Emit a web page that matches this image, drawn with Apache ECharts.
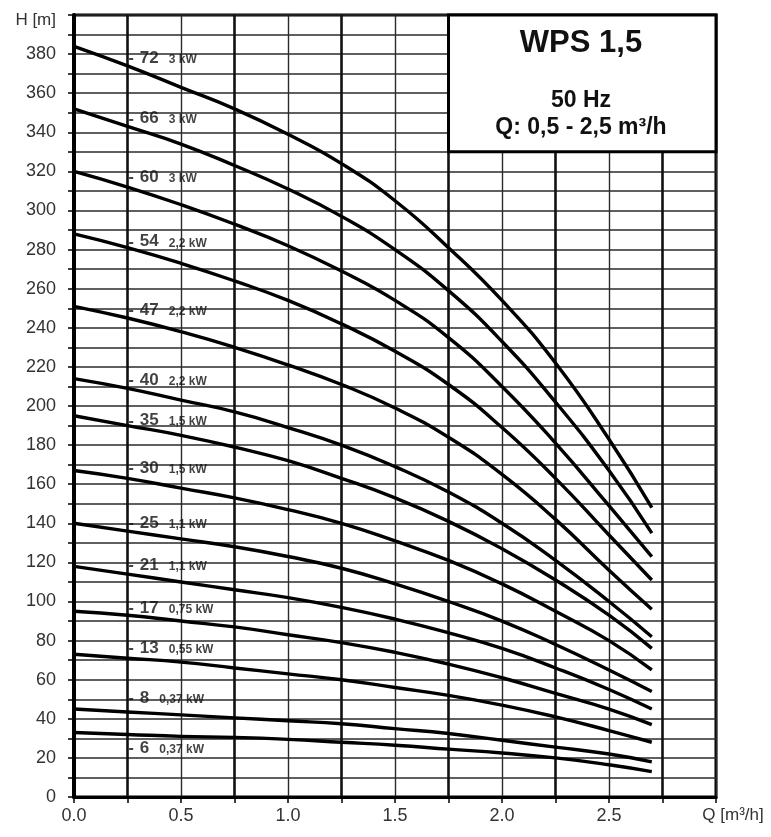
<!DOCTYPE html>
<html>
<head>
<meta charset="utf-8">
<title>WPS 1,5</title>
<script src="https://cdn.jsdelivr.net/npm/echarts@6/dist/echarts.min.js"></script>
<style>
  html, body { margin: 0; padding: 0; background: #fff; }
  #chart { width: 771px; height: 837px; }
</style>
</head>
<body>
<div id="chart"></div>
<script>
// Q [m³/h] where the curves were read
const flow = [0, 0.25, 0.5, 0.75, 1.0, 1.25, 1.5, 1.75, 2.0, 2.25, 2.5, 2.7];

// H [m] for each stage count
const h72 = [384, 374, 363, 352, 339, 324, 305, 281, 254, 222, 183, 148];
const h66 = [352, 343, 334, 323, 311, 297, 280, 259, 233, 202, 167, 135];
const h60 = [320, 312, 303, 293, 282, 269, 254, 235, 210, 181, 149, 123];
const h54 = [288, 281, 273, 264, 254, 242, 228, 211, 189, 163, 134, 111];
const h47 = [251, 245, 238, 230, 221, 211, 199, 184, 165, 142, 116, 96];
const h40 = [214, 209, 203, 197, 189, 180, 169, 156, 140, 121, 100, 82];
const h35 = [195, 190, 185, 179, 172, 163, 153, 141, 127, 111, 93, 76];
const h30 = [167, 163, 158, 153, 147, 140, 131, 121, 109, 95, 80, 65];
const h25 = [140, 136, 132, 128, 123, 117, 109, 100, 90, 78, 65, 54];
const h21 = [118, 114, 110, 106, 102, 97, 91, 84, 76, 66, 55, 45];
const h17 = [95, 93, 90, 87, 83, 79, 74, 68, 61, 53, 45, 37];
const h13 = [73, 71, 69, 66, 63, 60, 56, 52, 47, 41, 34, 28];
const h8 = [45, 43.5, 42, 40.5, 39, 37.5, 35, 32.5, 29, 25.5, 22, 18];
const h6 = [33, 32, 31, 30.5, 29.5, 28, 26.5, 24.5, 22.5, 20, 16.5, 13];

const curves = [h72, h66, h60, h54, h47, h40, h35, h30, h25, h21, h17, h13, h8, h6];
const stages = ['72', '66', '60', '54', '47', '40', '35', '30', '25', '21', '17', '13', '8', '6'];
const powers = ['3 kW', '3 kW', '3 kW', '2,2 kW', '2,2 kW', '2,2 kW', '1,5 kW', '1,5 kW',
  '1,1 kW', '1,1 kW', '0,75 kW', '0,55 kW', '0,37 kW', '0,37 kW'];
// where the stage labels sit (at Q = 0.25)
const labelQ = 0.25;
const labelHeads = [378, 347, 317, 284, 249, 213, 192.5, 168, 140, 118.5, 96.5, 76, 50.5, 25];

const font = '"Liberation Sans", Arial, sans-serif';

const chart = echarts.init(document.getElementById('chart'));

const series = curves.map((h, i) => ({
  name: stages[i],
  type: 'line',
  data: flow.map((q, j) => [q, h[j]]),
  smooth: true,
  showSymbol: false,
  silent: true,
  lineStyle: { color: '#000', width: 3.4 },
  z: 3,
}));

// stage / motor power labels
series.push({
  type: 'scatter',
  symbolSize: 0,
  silent: true,
  data: labelHeads.map((h, i) => ({ value: [labelQ, h], name: stages[i] })),
  label: {
    show: true,
    position: 'right',
    distance: 0,
    formatter: p => '{d|-}{n|' + stages[p.dataIndex] + '}{k|' + powers[p.dataIndex] + '}',
    rich: {
      d: { fontFamily: font, fontSize: 16, color: '#111', fontWeight: 'bold', verticalAlign: 'bottom', padding: [0, 6, 0, 1] },
      n: { fontFamily: font, fontSize: 17, color: '#111', fontWeight: 'bold', verticalAlign: 'bottom' },
      k: { fontFamily: font, fontSize: 12, color: '#111', fontWeight: 'bold', padding: [0, 0, 1, 10], verticalAlign: 'bottom' },
    },
  },
  z: 4,
});

// white box in the upper right corner
series.push({
  type: 'line',
  data: [],
  silent: true,
  markArea: {
    silent: true,
    itemStyle: { color: '#fff', borderColor: '#000', borderWidth: 3 },
    label: { show: false },
    data: [[{ coord: [1.75, 330] }, { coord: [3.0, 400] }]],
  },
  z: 5,
});

const option = {
  animation: false,
  backgroundColor: '#fff',
  grid: {
    left: 74, right: 55, top: 15, bottom: 40,
    show: true, borderColor: '#000', borderWidth: 3,
  },
  xAxis: {
    type: 'value',
    min: 0, max: 3, interval: 0.5,
    axisLine: { lineStyle: { color: '#000', width: 3 } },
    axisTick: { show: true, length: 6, lineStyle: { color: '#000', width: 1.5 } },
    minorTick: { show: true, splitNumber: 2, length: 6, lineStyle: { color: '#000', width: 1.5 } },
    splitLine: { show: true, lineStyle: { color: '#2a2a2a', width: 1.4 } },
    minorSplitLine: { show: true, lineStyle: { color: '#111', width: 2.6 } },
    axisLabel: {
      margin: 10,
      fontFamily: font, fontSize: 18, color: '#333',
      formatter: v => (v === 3 ? '{q|Q [m³/h]}' : v.toFixed(1)),
      rich: { q: { fontFamily: font, fontSize: 17, color: '#333', padding: [0, 0, 0, 34] } },
    },
  },
  yAxis: {
    type: 'value',
    min: 0, max: 400, interval: 20,
    axisLine: { lineStyle: { color: '#000', width: 4 } },
    axisTick: { show: true, length: 6, lineStyle: { color: '#000', width: 1.5 } },
    minorTick: { show: true, splitNumber: 2, length: 6, lineStyle: { color: '#000', width: 1.5 } },
    splitLine: { show: true, lineStyle: { color: '#2a2a2a', width: 1.6 } },
    minorSplitLine: { show: true, lineStyle: { color: '#2a2a2a', width: 1.6 } },
    axisLabel: {
      margin: 18,
      fontFamily: font, fontSize: 18, color: '#333',
      formatter: v => (v === 400 ? '{h|H [m]}' : String(v)),
      rich: { h: { fontFamily: font, fontSize: 17, color: '#333', padding: [10, 0, 0, 0] } },
    },
  },
  graphic: [
    { type: 'text', x: 581, y: 43, z: 100,
      style: { text: 'WPS 1,5', font: 'bold 31px ' + font, fill: '#111', align: 'center', verticalAlign: 'middle' } },
    { type: 'text', x: 581, y: 101, z: 100,
      style: { text: '50 Hz', font: 'bold 23px ' + font, fill: '#111', align: 'center', verticalAlign: 'middle' } },
    { type: 'text', x: 581, y: 128, z: 100,
      style: { text: 'Q: 0,5 - 2,5 m³/h', font: 'bold 23px ' + font, fill: '#111', align: 'center', verticalAlign: 'middle' } },
  ],
  series: series,
};

chart.setOption(option);
</script>
</body>
</html>
